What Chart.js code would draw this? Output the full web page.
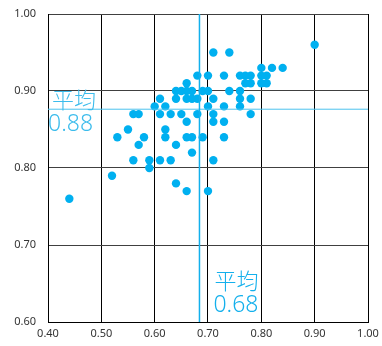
<!DOCTYPE html>
<html>
<head>
<meta charset="utf-8">
<script src="https://cdn.jsdelivr.net/npm/chart.js@4.4.0/dist/chart.umd.min.js"></script>
<style>
  html, body { margin: 0; padding: 0; background: #fff; }
  #wrap { width: 382px; height: 346px; }
</style>
</head>
<body>
<div id="wrap"><canvas id="scatterChart" width="382" height="346"></canvas></div>
<script>
// x / y values
var xVals = [0.90, 0.71, 0.74, 0.80, 0.82, 0.84,
  0.68, 0.70, 0.73, 0.76, 0.77, 0.78, 0.80, 0.81,
  0.66, 0.77, 0.78, 0.80, 0.81,
  0.64, 0.65, 0.66, 0.67, 0.69, 0.70, 0.74, 0.76,
  0.61, 0.64, 0.66, 0.67, 0.68, 0.71, 0.76, 0.78,
  0.60, 0.62, 0.70, 0.73, 0.76,
  0.56, 0.57, 0.61, 0.63, 0.65, 0.68, 0.71, 0.78,
  0.66, 0.71, 0.73,
  0.55, 0.62,
  0.53, 0.58, 0.62, 0.66, 0.67, 0.69, 0.73,
  0.57, 0.64,
  0.67,
  0.56, 0.59, 0.61, 0.63, 0.71,
  0.59, 0.52, 0.64, 0.66, 0.70, 0.44];
var yVals = [0.96, 0.95, 0.95, 0.93, 0.93, 0.93,
  0.92, 0.92, 0.92, 0.92, 0.92, 0.92, 0.92, 0.92,
  0.91, 0.91, 0.91, 0.91, 0.91,
  0.90, 0.90, 0.90, 0.90, 0.90, 0.90, 0.90, 0.90,
  0.89, 0.89, 0.89, 0.89, 0.89, 0.89, 0.89, 0.89,
  0.88, 0.88, 0.88, 0.88, 0.88,
  0.87, 0.87, 0.87, 0.87, 0.87, 0.87, 0.87, 0.87,
  0.86, 0.86, 0.86,
  0.85, 0.85,
  0.84, 0.84, 0.84, 0.84, 0.84, 0.84, 0.84,
  0.83, 0.83,
  0.82,
  0.81, 0.81, 0.81, 0.81, 0.81,
  0.80, 0.79, 0.78, 0.77, 0.77, 0.76];

var meanX = 0.684;
var meanY = 0.877;
var meanLabel = '平均';
var xTicks = [0.4, 0.5, 0.6, 0.7, 0.8, 0.9, 1.0];
var yTicks = [0.6, 0.7, 0.8, 0.9, 1.0];

var pts = xVals.map(function (x, i) { return { x: x, y: yVals[i] }; });

// mean lines + labels
var meanPlugin = {
  id: 'meanLines',
  afterDatasetsDraw: function (chart) {
    var ctx = chart.ctx, a = chart.chartArea;
    var sx = chart.scales.x, sy = chart.scales.y;
    var px = sx.getPixelForValue(meanX), py = sy.getPixelForValue(meanY);
    ctx.save();
    ctx.lineWidth = 1;
    ctx.strokeStyle = '#4cc2ee';
    ctx.beginPath();
    ctx.moveTo(a.left, py + 0.5);
    ctx.lineTo(a.right, py + 0.5);
    ctx.stroke();
    ctx.lineWidth = 1.5;
    ctx.strokeStyle = '#12b0ec';
    ctx.beginPath();
    ctx.moveTo(px, a.top);
    ctx.lineTo(px, a.bottom);
    ctx.stroke();

    ctx.textAlign = 'left';
    ctx.textBaseline = 'middle';
    ctx.fillStyle = '#3cbcec';
    ctx.font = '300 22px "Noto Sans CJK JP"';
    ctx.fillText(meanLabel, a.left + 4, py - 9);
    ctx.font = '300 23px "Noto Sans"';
    ctx.fillText(meanY.toFixed(2), a.left, py + 16);

    ctx.fillStyle = '#14b0ec';
    ctx.font = '300 22px "Noto Sans CJK JP"';
    ctx.fillText(meanLabel, px + 15, a.bottom - 41);
    ctx.font = '300 23px "Noto Sans"';
    ctx.fillText(meanX.toFixed(2), px + 14, a.bottom - 17);
    ctx.restore();
  }
};

var scatterChart = new Chart(document.getElementById('scatterChart').getContext('2d'), {
  type: 'scatter',
  data: {
    datasets: [{
      data: pts,
      backgroundColor: '#00b0f0',
      borderWidth: 0,
      pointRadius: 4.2,
      pointHoverRadius: 4.2
    }]
  },
  options: {
    responsive: false,
    animation: false,
    layout: { padding: { left: 0, right: 14, top: 14, bottom: 0 } },
    plugins: { legend: { display: false }, tooltip: { enabled: false } },
    scales: {
      x: {
        min: 0.4, max: 1.0,
        afterBuildTicks: function (s) { s.ticks = xTicks.map(function (v) { return { value: v }; }); },
        afterFit: function (s) { s.height = 24; s.paddingLeft = 0; s.paddingRight = 0; },
        grid: { color: '#000', lineWidth: 1, drawTicks: false },
        border: { color: '#000', width: 1 },
        ticks: {
          padding: 5,
          color: '#333',
          font: { family: 'Noto Sans', size: 11 },
          callback: function (v) { return Number(v).toFixed(2); }
        }
      },
      y: {
        min: 0.6, max: 1.0,
        afterBuildTicks: function (s) { s.ticks = yTicks.map(function (v) { return { value: v }; }); },
        afterFit: function (s) { s.width = 48; s.paddingTop = 0; s.paddingBottom = 0; },
        grid: { color: '#404040', lineWidth: 1, drawTicks: false },
        border: { color: '#000', width: 1 },
        ticks: {
          padding: 12,
          color: '#333',
          font: { family: 'Noto Sans', size: 11 },
          callback: function (v) { return Number(v).toFixed(2); }
        }
      }
    }
  },
  plugins: [meanPlugin]
});
</script>
</body>
</html>
